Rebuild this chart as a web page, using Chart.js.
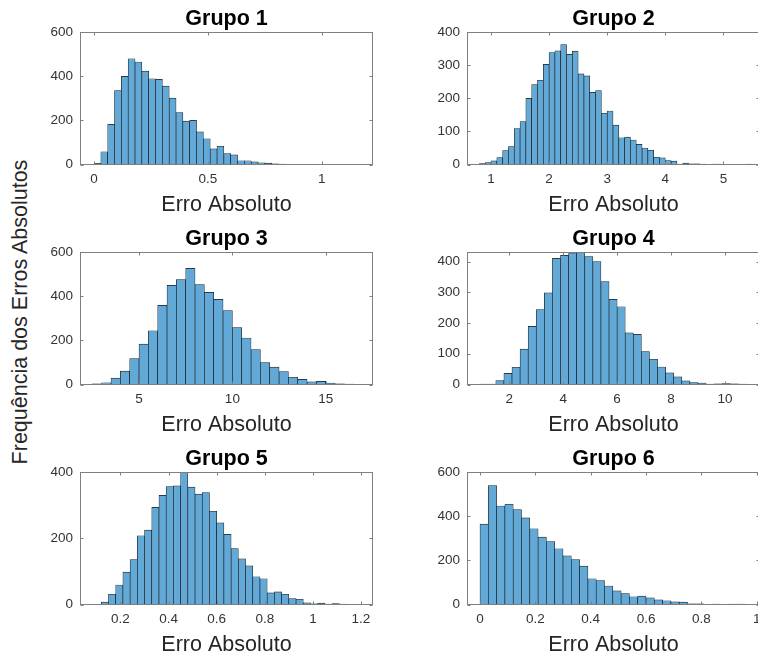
<!DOCTYPE html>
<html>
<head>
<meta charset="utf-8">
<script src="https://cdn.jsdelivr.net/npm/chart.js@4.4.0/dist/chart.umd.min.js"></script>
<style>
  html, body { margin: 0; padding: 0; background: #fff; }
  body { position: relative; width: 758px; height: 657px; overflow: hidden; }
  canvas { position: absolute; }
  #ylab {
    position: absolute; left: 20px; top: 312px;
    transform: translate(-50%, -50%) rotate(-90deg);
    white-space: nowrap; line-height: 1;
    font: 21.5px "Liberation Sans", Arial, sans-serif; color: #262626;
  }
</style>
</head>
<body>
<div id="ylab">Frequência dos Erros Absolutos</div>
<script>
const titles = ['Grupo 1', 'Grupo 2', 'Grupo 3', 'Grupo 4', 'Grupo 5', 'Grupo 6'];
const xLabel = 'Erro Absoluto';

// histogram bins: first edge and width of each group
const binStart = [0, 0.8, 2.5, 0.9, 0.12, 0];
const binWidth = [0.03, 0.1, 0.5, 0.3, 0.03, 0.03];

// counts per bin
const counts1 = [5, 58, 182, 335, 400, 480, 465, 424, 389, 386, 356, 301, 236, 197, 200, 148, 117, 71, 83, 50,
                 44, 17, 17, 12, 8, 6, 3, 2, 1, 1, 1, 1, 1, 0, 1, 0, 0, 1, 1];
const counts2 = [3, 6, 11, 21, 42, 54, 109, 130, 200, 242, 255, 303, 339, 344, 363, 333, 343, 274, 268, 218,
                 224, 155, 162, 119, 81, 83, 74, 61, 50, 43, 22, 20, 12, 10, 1, 4, 2, 2, 1, 0, 1, 1, 0, 0, 0, 0, 1];
const counts3 = [3, 8, 29, 61, 118, 183, 244, 359, 450, 476, 527, 453, 418, 386, 336, 258, 211, 159, 100, 79,
                 59, 33, 23, 12, 14, 7, 3, 2, 1];
const counts4 = [1, 1, 13, 36, 56, 115, 189, 244, 298, 410, 420, 428, 430, 416, 400, 335, 277, 253, 168, 163,
                 107, 82, 57, 38, 25, 12, 6, 5, 1, 2, 3, 2, 1];
const counts5 = [7, 31, 59, 98, 136, 208, 225, 294, 330, 357, 359, 400, 355, 334, 339, 282, 247, 212, 169, 138,
                 117, 84, 78, 35, 38, 31, 18, 16, 5, 2, 4, 1, 3, 1];
const counts6 = [365, 540, 447, 455, 431, 393, 344, 306, 286, 253, 221, 204, 174, 117, 108, 84, 62, 49, 35, 38,
                 30, 21, 17, 12, 11, 3, 3, 1, 2, 1, 2, 2, 1];
const counts = [counts1, counts2, counts3, counts4, counts5, counts6];

// axis limits and ticks
const xMin = [-0.0615, 0.587, 1.84, 0.431, 0.0316, -0.047];
const xMax = [1.2245, 5.63, 17.53, 11.3, 1.25, 1.012];
const xTicks = [
  [0, 0.5, 1],
  [1, 2, 3, 4, 5],
  [5, 10, 15],
  [2, 4, 6, 8, 10],
  [0.2, 0.4, 0.6, 0.8, 1, 1.2],
  [0, 0.2, 0.4, 0.6, 0.8, 1]
];
const yMax = [600, 400, 600, 430, 400, 600];
const yTicks = [
  [0, 200, 400, 600],
  [0, 100, 200, 300, 400],
  [0, 200, 400, 600],
  [0, 100, 200, 300, 400],
  [0, 200, 400],
  [0, 200, 400, 600]
];

// layout
const FONT = '"Liberation Sans", Arial, sans-serif';
const Y_AXIS_W = 60;
const PLOT_W = 293;
const PLOT_H = 132.2;
const RIGHT_PAD = 10;
const TITLE_SIZE = 21.5;
const TITLE_BLOCK = TITLE_SIZE * 1.2 + 0.5;
const CANVAS_H = 212;
const X_AXIS_H = CANVAS_H - TITLE_BLOCK - PLOT_H;
const colLeft = [20, 407];
const rowTop = [6, 226, 446];

// axes box with inward tick marks, like the original
const boxPlugin = {
  id: 'axesBox',
  afterDraw(chart) {
    const { ctx, chartArea: a, scales } = chart;
    const l = Math.round(a.left) + 0.5, r = Math.round(a.right) - 0.5;
    const t = Math.round(a.top) + 0.5, b = Math.round(a.bottom) - 0.5;
    ctx.save();
    ctx.strokeStyle = '#7f7f7f';
    ctx.lineWidth = 1;
    ctx.strokeRect(l, t, r - l, b - t);
    ctx.beginPath();
    scales.x.ticks.forEach(tk => {
      const px = Math.round(scales.x.getPixelForValue(tk.value)) + 0.5;
      ctx.moveTo(px, b); ctx.lineTo(px, b - 3);
      ctx.moveTo(px, t); ctx.lineTo(px, t + 3);
    });
    scales.y.ticks.forEach(tk => {
      const py = Math.round(scales.y.getPixelForValue(tk.value)) + 0.5;
      ctx.moveTo(l, py); ctx.lineTo(l + 3, py);
      ctx.moveTo(r, py); ctx.lineTo(r - 3, py);
    });
    ctx.stroke();
    ctx.restore();
  }
};

function drawGroup(i) {
  const canvas = document.createElement('canvas');
  canvas.width = Y_AXIS_W + PLOT_W + RIGHT_PAD;
  canvas.height = CANVAS_H;
  canvas.style.left = colLeft[i % 2] + 'px';
  canvas.style.top = rowTop[Math.floor(i / 2)] + 'px';
  document.body.appendChild(canvas);

  const points = counts[i].map((c, k) => ({ x: binStart[i] + (k + 0.5) * binWidth[i], y: c }));

  new Chart(canvas, {
    type: 'bar',
    data: {
      datasets: [{
        data: points,
        backgroundColor: 'rgb(99,169,215)',
        borderColor: '#1a1a1a',
        borderWidth: 0.65,
        barPercentage: 1,
        categoryPercentage: 1
      }]
    },
    options: {
      responsive: false,
      animation: false,
      devicePixelRatio: 1,
      layout: { padding: { left: 0, right: RIGHT_PAD, top: 0, bottom: 0 } },
      plugins: {
        legend: { display: false },
        tooltip: { enabled: false },
        title: {
          display: true,
          text: titles[i],
          fullSize: false,
          color: '#000',
          font: { family: FONT, size: TITLE_SIZE, weight: 'bold', lineHeight: 1.2 },
          padding: { top: 0, bottom: 0.5 }
        }
      },
      scales: {
        x: {
          type: 'linear',
          min: xMin[i],
          max: xMax[i],
          offset: false,
          grid: { display: false, drawTicks: false },
          border: { display: false },
          ticks: {
            color: '#333',
            font: { family: FONT, size: 13.5 },
            padding: 7,
            autoSkip: false,
            maxRotation: 0,
            callback: v => String(v)
          },
          afterBuildTicks: s => { s.ticks = xTicks[i].map(v => ({ value: v })); },
          afterFit: s => { s.height = X_AXIS_H; },
          title: {
            display: true,
            text: xLabel,
            color: '#262626',
            font: { family: FONT, size: 21.5, lineHeight: 1.2 },
            padding: 0
          }
        },
        y: {
          min: 0,
          max: yMax[i],
          grid: { display: false, drawTicks: false },
          border: { display: false },
          ticks: {
            color: '#333',
            font: { family: FONT, size: 13.5 },
            padding: 7,
            callback: v => String(v)
          },
          afterBuildTicks: s => { s.ticks = yTicks[i].map(v => ({ value: v })); },
          afterFit: s => { s.width = Y_AXIS_W; }
        }
      }
    },
    plugins: [boxPlugin]
  });
}

for (let i = 0; i < 6; i++) {
  drawGroup(i);
}
</script>
</body>
</html>
